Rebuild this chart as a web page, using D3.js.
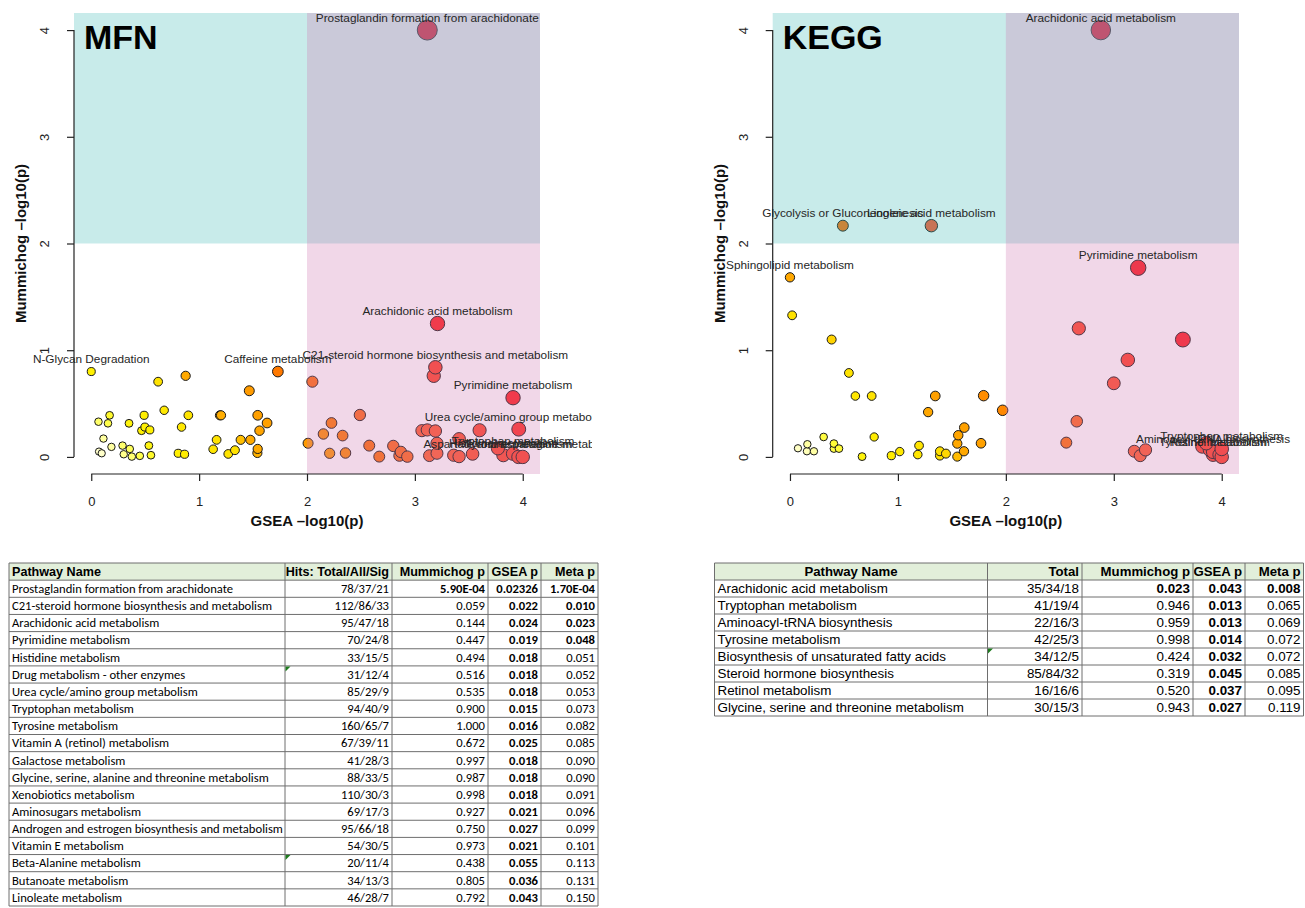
<!DOCTYPE html>
<html><head><meta charset="utf-8">
<script src="https://cdn.jsdelivr.net/npm/d3@7"></script>
<style>body{margin:0;background:#fff}svg{display:block}</style>
</head><body>
<svg id="c" width="1305" height="908"></svg>
<script>
// ---------------- DATA ----------------
const axisTicks = [0, 1, 2, 3, 4];

// MFN scatter: GSEA -log10(p) (x) and Mummichog -log10(p) (y)
const mfnGsea = [0.00,0.62,0.875,1.465,1.73,2.05,0.067,0.17,0.155,0.35,0.49,0.497,0.466,0.543,0.676,0.90,0.837,1.193,1.203,1.543,1.63,1.56,1.162,1.385,1.475,1.13,1.332,1.27,1.543,1.54,0.806,0.865,0.113,0.187,0.072,0.097,0.29,0.357,0.301,0.376,0.45,0.534,0.553,2.01,
  3.19,3.175,3.91,2.49,2.227,2.152,2.33,2.21,2.357,2.577,2.67,2.80,2.87,2.857,2.93,3.065,3.115,3.19,3.205,3.135,3.205,3.41,3.36,3.41,3.535,3.60,3.963,3.77,3.82,3.91,3.96,4.00,3.21,3.115];
const mfnMumm = [0.80,0.705,0.76,0.62,0.80,0.705,0.33,0.39,0.315,0.315,0.39,0.28,0.246,0.253,0.437,0.39,0.28,0.39,0.39,0.39,0.318,0.246,0.16,0.16,0.16,0.072,0.063,0.028,0.075,0.037,0.034,0.025,0.172,0.094,0.05,0.034,0.106,0.075,0.025,0.003,0.01,0.106,0.016,0.128,
  0.84,0.76,0.555,0.393,0.318,0.215,0.20,0.034,0.037,0.106,0.003,0.103,0.047,0.012,0.003,0.246,0.253,0.243,0.128,0.012,0.034,0.169,0.016,0.003,0.028,0.25,0.26,0.08,0.016,0.03,0.0,0.0,1.25,4.0];
const mfnNames = ["N-Glycan Degradation","","","","Caffeine metabolism","","","","","","","","","","","","","","","","","","","","","","","","","","","","","","","","","","","","","","","",
  "C21-steroid hormone biosynthesis and metabolism","","Pyrimidine metabolism","","","","","","","","","","","","","","","","","","","","","","","","Urea cycle/amino group metabolism","","Histidine metabolism","Tryptophan metabolism","Tyrosine metabolism","Aspartate and asparagine metabolism","Arachidonic acid metabolism","Prostaglandin formation from arachidonate"];

// KEGG scatter
const keggGsea = [0.0,0.02,0.386,0.546,0.606,0.757,1.346,1.794,1.28,1.97,1.615,1.559,1.55,1.77,1.612,1.55,0.78,0.312,0.161,0.157,0.222,0.074,0.407,0.407,0.454,0.668,0.939,1.017,1.196,1.184,1.389,1.389,1.445,0.49,1.31,
  2.88,3.226,2.676,3.64,3.13,3.0,2.657,2.56,3.19,3.245,3.294,3.856,3.82,3.89,4.0,3.92,3.92,3.98,4.0];
const keggMumm = [1.683,1.327,1.10,0.787,0.571,0.571,0.571,0.574,0.42,0.437,0.275,0.203,0.125,0.128,0.053,0.003,0.187,0.187,0.119,0.053,0.053,0.081,0.125,0.078,0.078,0.003,0.012,0.05,0.106,0.022,0.053,0.012,0.031,2.167,2.167,
  4.0,1.773,1.205,1.10,0.909,0.69,0.334,0.134,0.053,0.012,0.066,0.128,0.097,0.066,0.075,0.047,0.02,0.02,0.0];
const keggNames = ["Sphingolipid metabolism","","","","","","","","","","","","","","","","","","","","","","","","","","","","","","","","","Glycolysis or Gluconeogenesis","Linoleic acid metabolism",
  "Arachidonic acid metabolism","Pyrimidine metabolism","","","","","","","","","","","","","Tryptophan metabolism","Aminoacyl-tRNA biosynthesis","Tyrosine metabolism","Retinol metabolism",""];

// MFN table
const mfnHeader = ["Pathway Name","Hits: Total/All/Sig","Mummichog p","GSEA p","Meta p"];
const mfnPathways = ["Prostaglandin formation from arachidonate","C21-steroid hormone biosynthesis and metabolism","Arachidonic acid metabolism","Pyrimidine metabolism","Histidine metabolism","Drug metabolism - other enzymes","Urea cycle/amino group metabolism","Tryptophan metabolism","Tyrosine metabolism","Vitamin A (retinol) metabolism","Galactose metabolism","Glycine, serine, alanine and threonine metabolism","Xenobiotics metabolism","Aminosugars metabolism","Androgen and estrogen biosynthesis and metabolism","Vitamin E metabolism","Beta-Alanine metabolism","Butanoate metabolism","Linoleate metabolism"];
const mfnHits = ["78/37/21","112/86/33","95/47/18","70/24/8","33/15/5","31/12/4","85/29/9","94/40/9","160/65/7","67/39/11","41/28/3","88/33/5","110/30/3","69/17/3","95/66/18","54/30/5","20/11/4","34/13/3","46/28/7"];
const mfnMummP = ["5.90E-04","0.059","0.144","0.447","0.494","0.516","0.535","0.900","1.000","0.672","0.997","0.987","0.998","0.927","0.750","0.973","0.438","0.805","0.792"];
const mfnGseaP = ["0.02326","0.022","0.024","0.019","0.018","0.018","0.018","0.015","0.016","0.025","0.018","0.018","0.018","0.021","0.027","0.021","0.055","0.036","0.043"];
const mfnMetaP = ["1.70E-04","0.010","0.023","0.048","0.051","0.052","0.053","0.073","0.082","0.085","0.090","0.090","0.091","0.096","0.099","0.101","0.113","0.131","0.150"];
const mfnFlagRows = [5, 16];

// KEGG table
const keggHeader = ["Pathway Name","Total","Mummichog p","GSEA p","Meta p"];
const keggPathways = ["Arachidonic acid metabolism","Tryptophan metabolism","Aminoacyl-tRNA biosynthesis","Tyrosine metabolism","Biosynthesis of unsaturated fatty acids","Steroid hormone biosynthesis","Retinol metabolism","Glycine, serine and threonine metabolism"];
const keggTotal = ["35/34/18","41/19/4","22/16/3","42/25/3","34/12/5","85/84/32","16/16/6","30/15/3"];
const keggMummP = ["0.023","0.946","0.959","0.998","0.424","0.319","0.520","0.943"];
const keggGseaP = ["0.043","0.013","0.013","0.014","0.032","0.045","0.037","0.027"];
const keggMetaP = ["0.008","0.065","0.069","0.072","0.072","0.085","0.095","0.119"];
const keggFlagRows = [4];

// ---------------- DRAWING ----------------
const svg = d3.select("#c");
const SANS = "'Liberation Sans', Arial, Helvetica, sans-serif";

const heat = d3.scaleLinear()
  .domain([0, 0.25, 0.45, 0.7, 1.45, 1.6, 2.3, 2.6, 3.2, 4.0, 4.4, 7])
  .range(["#FFFFE6","#FFFFB0","#FFFF50","#FFF200","#FFE000","#FFAA00","#FF9500","#FF7000","#FF6030","#FF4028","#FF2020","#E8102A"])
  .clamp(true);
const radius = d3.scalePow().exponent(1.25).domain([0, 7.1]).range([3.6, 10]).clamp(true);

function panel(opt) {
  const g = svg.append("g");
  const x = d3.scaleLinear().domain([-0.16, 4.16]).range([opt.left, opt.right]);
  const y = d3.scaleLinear().domain([-0.16, 4.16]).range([opt.bottom, opt.top]);
  const pts = opt.gsea.map((v, i) => ({gx: v, my: opt.mumm[i], name: opt.names[i], s: v + opt.mumm[i]}))
    .sort((a, b) => a.s - b.s);

  // points
  g.append("g").selectAll("circle").data(pts).join("circle")
    .attr("cx", d => x(d.gx)).attr("cy", d => y(d.my))
    .attr("r", d => radius(d.s))
    .attr("fill", d => heat(d.s))
    .attr("stroke", "#1a1a1a").attr("stroke-width", 1);

  // translucent significance bands drawn on top
  g.append("rect").attr("x", opt.left).attr("y", opt.top)
    .attr("width", opt.right - opt.left).attr("height", y(2) - opt.top)
    .attr("fill", "rgb(72,188,185)").attr("fill-opacity", 0.3);
  g.append("rect").attr("x", x(2)).attr("y", opt.top)
    .attr("width", opt.right - x(2)).attr("height", opt.bottom - opt.top)
    .attr("fill", "rgb(208,122,178)").attr("fill-opacity", 0.3);

  // labels
  const clipId = "clip" + opt.title;
  g.append("clipPath").attr("id", clipId).append("rect")
    .attr("x", opt.clipLeft).attr("y", 0).attr("width", opt.clipRight - opt.clipLeft).attr("height", 560);
  g.append("g").attr("clip-path", `url(#${clipId})`)
    .selectAll("text").data(pts.filter(d => d.name)).join("text")
    .attr("x", d => x(d.gx)).attr("y", d => y(d.my) - 8.5)
    .attr("text-anchor", "middle")
    .attr("font-family", SANS).attr("font-size", 11.8).attr("fill", "#262626")
    .text(d => d.name);

  // axes
  const xa = g.append("g").attr("transform", `translate(0,${opt.bottom})`)
    .call(d3.axisBottom(x).tickValues(axisTicks).tickSize(7).tickPadding(16).tickFormat(d3.format("d")));
  xa.select(".domain").remove();
  xa.append("line").attr("x1", x(0)).attr("x2", x(4)).attr("stroke", "#222").attr("stroke-width", 1.2);
  xa.selectAll(".tick line").attr("stroke", "#222").attr("stroke-width", 1.2);
  xa.selectAll("text").attr("font-family", SANS).attr("font-size", 13).attr("fill", "#222");

  const ya = g.append("g").attr("transform", `translate(${opt.left},0)`)
    .call(d3.axisLeft(y).tickValues(axisTicks).tickSize(7).tickFormat(d3.format("d")));
  ya.select(".domain").remove();
  ya.append("line").attr("y1", y(0)).attr("y2", y(4)).attr("stroke", "#222").attr("stroke-width", 1.2);
  ya.selectAll(".tick line").attr("stroke", "#222").attr("stroke-width", 1.2);
  ya.selectAll("text").attr("x", null).attr("dy", null)
    .attr("transform", "translate(-25,0) rotate(-90)").attr("text-anchor", "middle")
    .attr("font-family", SANS).attr("font-size", 13).attr("fill", "#222");

  g.append("text").attr("x", (opt.left + opt.right) / 2).attr("y", 526)
    .attr("text-anchor", "middle").attr("font-family", SANS).attr("font-weight", "bold")
    .attr("font-size", 15).attr("fill", "#111").text("GSEA \u2013log10(p)");
  const cy = (opt.top + opt.bottom) / 2;
  g.append("text").attr("transform", `translate(${opt.left - 48},${cy}) rotate(-90)`)
    .attr("text-anchor", "middle").attr("font-family", SANS).attr("font-weight", "bold")
    .attr("font-size", 15).attr("fill", "#111").text("Mummichog \u2013log10(p)");

  g.append("text").attr("x", opt.left + 10).attr("y", 49)
    .attr("font-family", SANS).attr("font-weight", "bold").attr("font-size", 34)
    .attr("fill", "#000").text(opt.title);
}

panel({title: "MFN", left: 74, right: 540, top: 13, bottom: 474, gsea: mfnGsea, mumm: mfnMumm, names: mfnNames, clipLeft: 0, clipRight: 592});
panel({title: "KEGG", left: 772.7, right: 1239, top: 13, bottom: 474, gsea: keggGsea, mumm: keggMumm, names: keggNames, clipLeft: 700, clipRight: 1305});

function table(opt) {
  const g = svg.append("g");
  const cols = opt.cols, rowH = opt.rowH, y0 = opt.top;
  const nRows = opt.columns[0].length;
  const x0 = cols[0], x1 = cols[cols.length - 1];
  const yEnd = y0 + rowH * (nRows + 1);
  g.append("rect").attr("x", x0).attr("y", y0).attr("width", x1 - x0).attr("height", rowH)
    .attr("fill", "#E2EFDA");
  opt.header.forEach((h, j) => {
    const al = opt.headerAlign[j];
    const tx = al === "start" ? cols[j] + 3 : al === "middle" ? (cols[j] + cols[j + 1]) / 2 : cols[j + 1] - 3;
    g.append("text").attr("x", tx).attr("y", y0 + rowH - 4.3).attr("text-anchor", al)
      .attr("font-family", SANS).attr("font-weight", "bold").attr("font-size", opt.headSize).attr("fill", "#000").text(h);
  });
  for (let i = 0; i < nRows; i++) {
    const ty = y0 + rowH * (i + 2) - 4.3;
    opt.columns.forEach((col, j) => {
      const v = col[i];
      let bold = false;
      if (j === 3) bold = true;
      else if (j === 2 || j === 4) bold = parseFloat(v) < 0.05;
      g.append("text").attr("x", j === 0 ? cols[0] + 3 : cols[j + 1] - 3).attr("y", ty)
        .attr("text-anchor", j === 0 ? "start" : "end")
        .attr("font-family", opt.font).attr("font-size", opt.fontSize)
        .attr("font-weight", bold ? "bold" : "normal").attr("fill", "#000").text(v);
    });
  }
  for (let i = 0; i <= nRows + 1; i++) {
    const yy = y0 + rowH * i;
    g.append("line").attr("x1", x0).attr("x2", x1).attr("y1", yy).attr("y2", yy)
      .attr("stroke", "#6e6e6e").attr("stroke-width", 1);
  }
  cols.forEach(cx => g.append("line").attr("x1", cx).attr("x2", cx).attr("y1", y0).attr("y2", yEnd)
    .attr("stroke", "#6e6e6e").attr("stroke-width", 1));
  opt.flags.forEach(r => {
    const yy = y0 + rowH * (r + 1), xx = cols[1];
    g.append("path").attr("d", `M${xx + 0.5},${yy + 0.5}L${xx + 5.5},${yy + 0.5}L${xx + 0.5},${yy + 5.5}Z`).attr("fill", "#1f7a1f");
  });
}

table({cols: [9, 285, 392, 488, 541, 598], top: 563, rowH: 17.15,
  header: mfnHeader, headerAlign: ["start","end","end","end","end"],
  columns: [mfnPathways, mfnHits, mfnMummP, mfnGseaP, mfnMetaP],
  font: "Carlito, Lato, 'Open Sans', sans-serif", fontSize: 12.6, headSize: 12.6, flags: mfnFlagRows});
table({cols: [714.5, 987.5, 1082, 1193, 1245, 1303.5], top: 563, rowH: 17,
  header: keggHeader, headerAlign: ["middle","end","end","end","end"],
  columns: [keggPathways, keggTotal, keggMummP, keggGseaP, keggMetaP],
  font: SANS, fontSize: 13.4, headSize: 13.2, flags: keggFlagRows});
</script>
</body></html>
